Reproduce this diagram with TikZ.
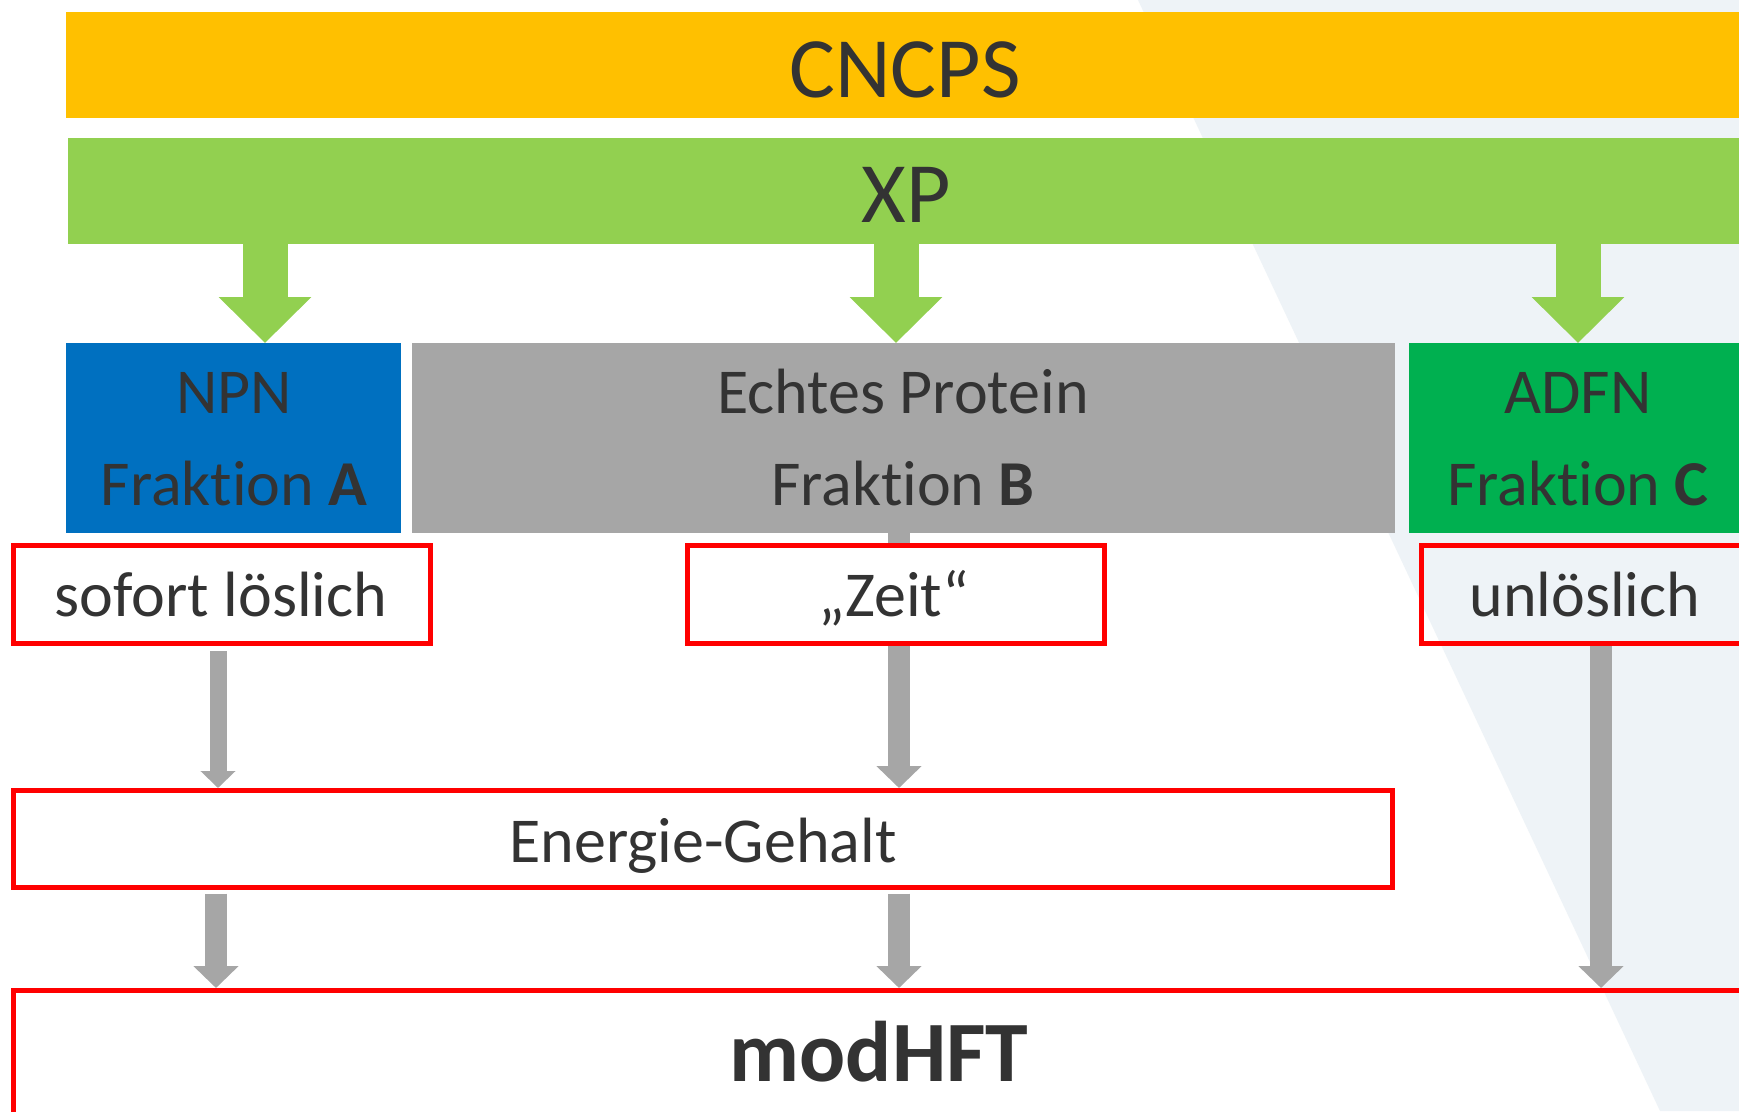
\documentclass[tikz,border=0pt]{standalone}
\usepackage{fontspec}
\setmainfont{Carlito}[Ligatures={TeX,NoCommon}]
\usetikzlibrary{arrows.meta,positioning}

\definecolor{cncpsgelb}{HTML}{FFC000}
\definecolor{xpgruen}{HTML}{92D050}
\definecolor{npnblau}{HTML}{0070C0}
\definecolor{protgrau}{HTML}{A6A6A6}
\definecolor{adfngruen}{HTML}{00B050}
\definecolor{rahmenrot}{HTML}{FF0000}
\definecolor{schrift}{HTML}{333333}
\definecolor{hgblau}{HTML}{EEF3F7}

\newcommand{\gross}{\fontsize{86}{100}\selectfont}
\newcommand{\mittel}{\fontsize{64}{77}\selectfont}

\begin{document}
\begin{tikzpicture}[x=1pt,y=-1pt,
	every node/.style={inner sep=0pt,text=schrift},
	balken/.style={anchor=north west,minimum height=106pt,minimum width=1690pt},
	fraktion/.style={anchor=north west,minimum height=190pt},
	rotbox/.style={draw=rahmenrot,line width=5pt,anchor=north west,minimum height=98pt},
	titel/.style={font=\gross,anchor=base},
	schild/.style={font=\mittel,anchor=base},
	gruenpfeil/.style={xpgruen,line width=45pt,-{Triangle[width=90pt,length=46pt]}},
	graupfeil/.style={protgrau,line width=22pt,-{Triangle[width=44pt,length=22pt]}},
	duennpfeil/.style={protgrau,line width=17pt,-{Triangle[width=34pt,length=17pt]}}]
	
	\useasboundingbox (0,0) rectangle (1739,1111);
	\clip (0,0) rectangle (1739,1111);
	\fill[white] (0,0) rectangle (1739,1111);
	\fill[hgblau] (1138,0) -- (1760,0) -- (1760,1111) -- (1660,1111) -- cycle;
	
	% Spalten der Pfeile
	\coordinate (spA) at (265,0);
	\coordinate (spB) at (896,0);
	\coordinate (spC) at (1578,0);
	\coordinate (gA) at (218,0);
	\coordinate (gAu) at (216,0);
	\coordinate (gB) at (899,0);
	\coordinate (gC) at (1601,0);
	
	% Balken
	\node[balken,fill=cncpsgelb] (cncps) at (66,12) {};
	\node[titel] (cncpstxt) at (905,97.5) {CNCPS};
	\node[balken,fill=xpgruen] (xp) at (68,138) {};
	\node[titel] (xptxt) at (906,222) {XP};
	
	% Fraktionen
	\node[fraktion,fill=npnblau,minimum width=335pt] (npn) at (66,343) {};
	\node[fraktion,fill=protgrau,minimum width=983pt] (prot) at (412,343) {};
	\node[fraktion,fill=adfngruen,minimum width=338pt] (adfn) at (1409,343) {};
	\node[schild] (npn1) at (234,413.5) {NPN};
	\node[schild] (npn2) at (234,505) {Fraktion \textbf{A}};
	\node[schild] (prot1) at (903,413.5) {Echtes Protein};
	\node[schild] (prot2) at (903,505) {Fraktion \textbf{B}};
	\node[schild] (adfn1) at (1578,413.5) {ADFN};
	\node[schild] (adfn2) at (1578,505) {Fraktion \textbf{C}};
	
	\draw[gruenpfeil] (xp.south -| spA) -- (npn.north -| spA);
	\draw[gruenpfeil] (xp.south -| spB) -- (prot.north -| spB);
	\draw[gruenpfeil] (xp.south -| spC) -- (adfn.north -| spC);
	
	% Eigenschaften
	\node[rotbox,minimum width=416.5pt] (sofort) at (11,543) {};
	\node[rotbox,minimum width=1379pt,minimum height=96.5pt] (energie) at (11,788) {};
	\node[rotbox,minimum width=1760pt,minimum height=140pt] (modhft) at (11,988) {};
	\draw[graupfeil] (prot.south -| gB) -- (energie.north -| gB);
	\node[rotbox,fill=white,minimum width=417pt] (zeit) at (685,543) {};
	\node[rotbox,minimum width=400pt] (unl) at (1419,543) {};
	
	\node[schild] (soforttxt) at (221,616.5) {sofort löslich};
	\node[schild] (zeittxt) at (894,616.5) {„Zeit“};
	\node[schild] (unltxt) at (1585,616.5) {unlöslich};
	\node[schild] (energietxt) at (703,862) {Energie-Gehalt};
	\node[titel] (modhfttxt) at (879,1081) {\textbf{modHFT}};
	
	\draw[duennpfeil] ([yshift=-5pt]sofort.south -| gA) -- (energie.north -| gA);
	\draw[graupfeil] (unl.south -| gC) -- (modhft.north -| gC);
	\draw[graupfeil] ([yshift=-4pt]energie.south -| gAu) -- (modhft.north -| gAu);
	\draw[graupfeil] ([yshift=-4pt]energie.south -| gB) -- (modhft.north -| gB);
\end{tikzpicture}
\end{document}
